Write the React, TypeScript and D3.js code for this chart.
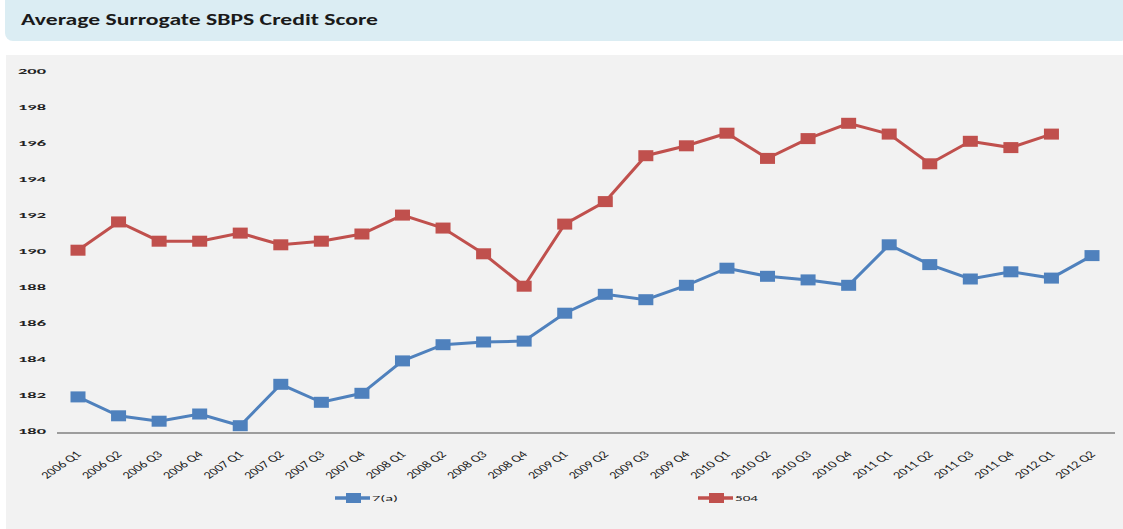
import * as d3 from "d3";

const quarters = [
  "2006 Q1", "2006 Q2", "2006 Q3", "2006 Q4",
  "2007 Q1", "2007 Q2", "2007 Q3", "2007 Q4",
  "2008 Q1", "2008 Q2", "2008 Q3", "2008 Q4",
  "2009 Q1", "2009 Q2", "2009 Q3", "2009 Q4",
  "2010 Q1", "2010 Q2", "2010 Q3", "2010 Q4",
  "2011 Q1", "2011 Q2", "2011 Q3", "2011 Q4",
  "2012 Q1", "2012 Q2",
];

const sevenA = [
  181.95, 180.9, 180.6, 181.0,
  180.35, 182.65, 181.65, 182.15,
  183.95, 184.85, 185.0, 185.05,
  186.6, 187.65, 187.35, 188.15,
  189.1, 188.65, 188.45, 188.15,
  190.4, 189.3, 188.5, 188.9,
  188.55, 189.8,
];

const fiveOFour: (number | null)[] = [
  190.1, 191.67, 190.6, 190.6,
  191.05, 190.4, 190.6, 191.0,
  192.05, 191.33, 189.9, 188.1,
  191.55, 192.8, 195.35, 195.9,
  196.6, 195.2, 196.3, 197.15,
  196.55, 194.9, 196.15, 195.8,
  196.55, null,
];

const yTicks = [180, 182, 184, 186, 188, 190, 192, 194, 196, 198, 200];

const W = 1123;
const H = 529;
const BLUE = "#4f81bd";
const RED = "#c0504d";
// the source picture is stretched sideways, so text and markers are wider than tall
const STRETCH = 1.45;

function App() {
  const x = d3.scalePoint<string>().domain(quarters).range([78, 1092]);
  const y = d3.scaleLinear().domain([180, 200]).range([432, 72]);

  const line = d3
    .line<number | null>()
    .defined((d) => d != null)
    .x((_, i) => x(quarters[i]) as number)
    .y((d) => y(d as number));

  const series = [
    { name: "7(a)", values: sevenA as (number | null)[], color: BLUE, lx: 335, tw: 26 },
    { name: "504", values: fiveOFour, color: RED, lx: 698, tw: 23 },
  ];

  const font = "Carlito, Calibri, 'Liberation Sans', 'DejaVu Sans', sans-serif";

  return (
    <svg
      width={W}
      height={H}
      style={{ position: "absolute", left: 0, top: 0, background: "#ffffff" }}
      fontFamily={font}
    >
      {/* title bar */}
      <rect x={5} y={-10} width={W} height={51} rx={8} fill="#dbedf3" />
      <text
        x={21}
        y={25}
        fontSize={15.5}
        fontWeight="bold"
        fill="#1a1a1a"
        textLength={357}
        lengthAdjust="spacingAndGlyphs"
      >
        Average  Surrogate  SBPS Credit Score
      </text>

      {/* chart panel */}
      <rect x={6} y={55} width={W} height={H - 55} fill="#f2f2f2" />

      {/* y axis labels */}
      {yTicks.map((t) => (
        <text
          key={t}
          x={18}
          y={y(t)}
          dy="0.35em"
          fontSize={7}
          fontWeight="bold"
          fill="#222"
          textLength={28}
          lengthAdjust="spacingAndGlyphs"
        >
          {t}
        </text>
      ))}

      {/* x axis */}
      <line x1={57} x2={1115} y1={433} y2={433} stroke="#808080" strokeWidth={1.5} />
      {quarters.map((q) => {
        const px = x(q) as number;
        return (
          <text
            key={q}
            transform={`translate(${px + 4},${455}) scale(${STRETCH},1) rotate(-45)`}
            textAnchor="end"
            fontSize={10}
            fill="#222"
          >
            {q}
          </text>
        );
      })}

      {/* series */}
      {series.map((s) => (
        <g key={s.name}>
          <path d={line(s.values) ?? ""} fill="none" stroke={s.color} strokeWidth={3} />
          {s.values.map((v, i) =>
            v == null ? null : (
              <rect
                key={i}
                x={(x(quarters[i]) as number) - 7.5}
                y={y(v) - 5.5}
                width={15}
                height={11}
                fill={s.color}
              />
            )
          )}
        </g>
      ))}

      {/* legend */}
      {series.map((s) => (
        <g key={"lg" + s.name}>
          <line x1={s.lx} x2={s.lx + 35} y1={498} y2={498} stroke={s.color} strokeWidth={3.5} />
          <rect x={s.lx + 11} y={493} width={15} height={10} fill={s.color} />
          <text
            x={s.lx + 37}
            y={498}
            dy="0.35em"
            fontSize={8.5}
            fill="#222"
            textLength={s.tw}
            lengthAdjust="spacingAndGlyphs"
          >
            {s.name}
          </text>
        </g>
      ))}
    </svg>
  );
}

export default App;
